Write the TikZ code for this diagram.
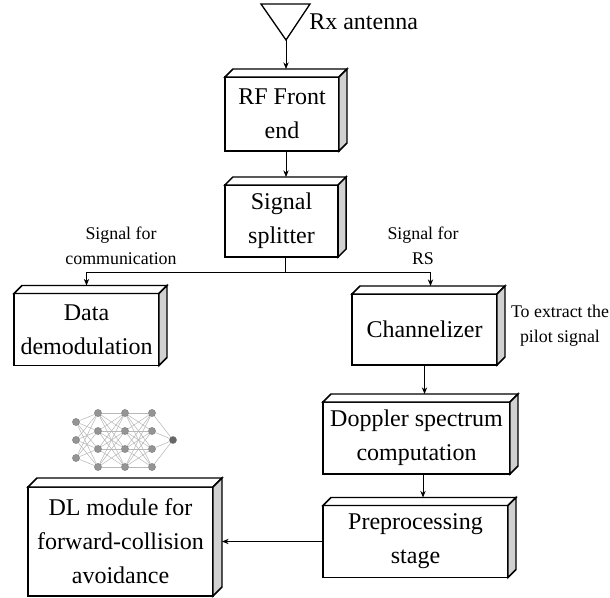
\documentclass[tikz,border=0pt]{standalone}
\usepackage{fontspec}
\setmainfont{Liberation Serif}
\newfontfamily\labelfont{Liberation Serif}
\usetikzlibrary{arrows.meta}
\usetikzlibrary{backgrounds}
\definecolor{sidegrey}{rgb}{0.82, 0.82, 0.82}
\definecolor{netgrey}{rgb}{0.58, 0.58, 0.58}
\definecolor{edgegrey}{rgb}{0.72, 0.72, 0.72}

\tikzset{
  block/.style={draw, line width=1.1pt, fill=white, inner sep=0pt, outer sep=0pt, align=center, font=\labelfont\fontsize{18}{25.5}\selectfont},
  note/.style={inner sep=0pt, align=center, font=\labelfont\fontsize{13.4}{18.75}\selectfont},
  link/.style={line width=0.6pt, -{Stealth[length=5pt,width=4pt]}},
  neuron/.style={circle, fill=netgrey, draw=gray, line width=0.3pt, minimum size=5.4pt, inner sep=0pt},
  synapse/.style={draw=edgegrey, line width=0.4pt},
}

% top face and shaded right face of a block
\newcommand{\blockdepth}[2]{%
  \path (#1.north east) ++(#2,-#2) coordinate (#1-ne);
  \path (#1.south east) ++(#2,-#2) coordinate (#1-se);
  \draw[line width=1.1pt, fill=white] (#1.north west) -- ++(#2,-#2) -- (#1-ne) -- (#1.north east) -- cycle;
  \draw[line width=1.1pt, fill=sidegrey] (#1.north east) -- (#1-ne) -- (#1-se) -- (#1.south east) -- cycle;
}

\begin{document}
\begin{tikzpicture}[x=0.75pt,y=0.75pt,yscale=-1,xscale=1]
\useasboundingbox (0,0) rectangle (610,598);

%Shape: Antenna
\draw[line width=1pt] (261,4) -- (310,4) -- (286,40) -- cycle;
\coordinate (ant) at (286,40);
% Text Node
\node (rx) at (309,22) [anchor=west, inner sep=0pt, font=\labelfont\fontsize{18}{22}\selectfont] {Rx antenna};

%Shape: Blocks
\node[block, minimum width=85.5pt, minimum height=55.5pt] (rf) at (282,114) {RF Front\\end};
\node[block, minimum width=85pt, minimum height=54pt] (split) at (281.5,221) {Signal\\splitter};
\node[block, minimum width=108.75pt, minimum height=54pt] (demod) at (86.5,329.5) {Data\\demodulation};
\node[block, minimum width=108.75pt, minimum height=53.25pt] (chan) at (424.5,329.5) {Channelizer};
\node[block, minimum width=140.25pt, minimum height=54pt] (dopp) at (416.5,438) {Doppler spectrum\\computation};
\node[block, minimum width=138.75pt, minimum height=54pt] (prep) at (415.5,541.5) {Preprocessing\\stage};
\node[block, minimum width=138.75pt, minimum height=81.75pt] (dl) at (120.5,541.5) {DL module for\\forward-collision\\avoidance};

\blockdepth{rf}{8}
\blockdepth{split}{8}
\blockdepth{demod}{8}
\blockdepth{chan}{8}
\blockdepth{dopp}{8}
\blockdepth{prep}{8}
\blockdepth{dl}{9}

% Text Node
\node[note] (comm) at (121,245.5) {Signal for\\communication};
% Text Node
\node[note] (rs) at (423,245.5) {Signal for\\RS};
% Text Node
\node[note] (pilot) at (560,325.5) {To extract the\\pilot signal};

% connection points on the top faces
\path (rf.north) ++(4,-8) coordinate (rf-top);
\path (rf.south) ++(4,0) coordinate (rf-bot);
\path (split.north) ++(4,-8) coordinate (split-top);
\path (split.south) ++(4,0) coordinate (split-bot);
\path (split-bot) ++(0,15) coordinate (fork);
\path (demod.north) ++(0,-8) coordinate (demod-top);
\path (chan.north) ++(6,-8) coordinate (chan-top);
\path (dopp.north) ++(4,-8) coordinate (dopp-top);
\path (dopp.south) ++(6.5,0) coordinate (dopp-bot);
\path (prep.north) ++(4,-8) coordinate (prep-top);
\path (dl.east) ++(9,0) coordinate (dl-side);

% Connectors
\draw[link] (ant) -- (ant |- rf-top);
\draw[link] (rf-bot) -- (rf-bot |- split-top);
\draw[line width=0.6pt] (split-bot) -- (fork);
\draw[link] (fork) -| (demod-top);
\draw[link] (fork) -| (chan-top);
\draw[link] (chan.south) -- (chan.south |- dopp-top);
\draw[link] (dopp-bot) -- (dopp-bot |- prep-top);
\draw[link] (prep.west) -- (dl-side);

%Shape: Neural network
\foreach \j/\y in {1/422,2/440,3/458}
  \node[neuron] (n1\j) at (76,\y) {};
\foreach \i/\x in {2/98,3/125,4/152}
  \foreach \j/\y in {1/413,2/431,3/449,4/467}
    \node[neuron] (n\i\j) at (\x,\y) {};
\node[neuron, fill=gray!80!black] (nout) at (173,440) {};

\begin{scope}[on background layer]
\foreach \a in {1,2,3}
  \foreach \b in {1,...,4}
    \draw[synapse] (n1\a) -- (n2\b);
\foreach \i/\k in {2/3,3/4}
  \foreach \a in {1,...,4}
    \foreach \b in {1,...,4}
      \draw[synapse] (n\i\a) -- (n\k\b);
\foreach \a in {1,...,4}
  \draw[synapse] (n4\a) -- (nout);
\end{scope}

\end{tikzpicture}
\end{document}
